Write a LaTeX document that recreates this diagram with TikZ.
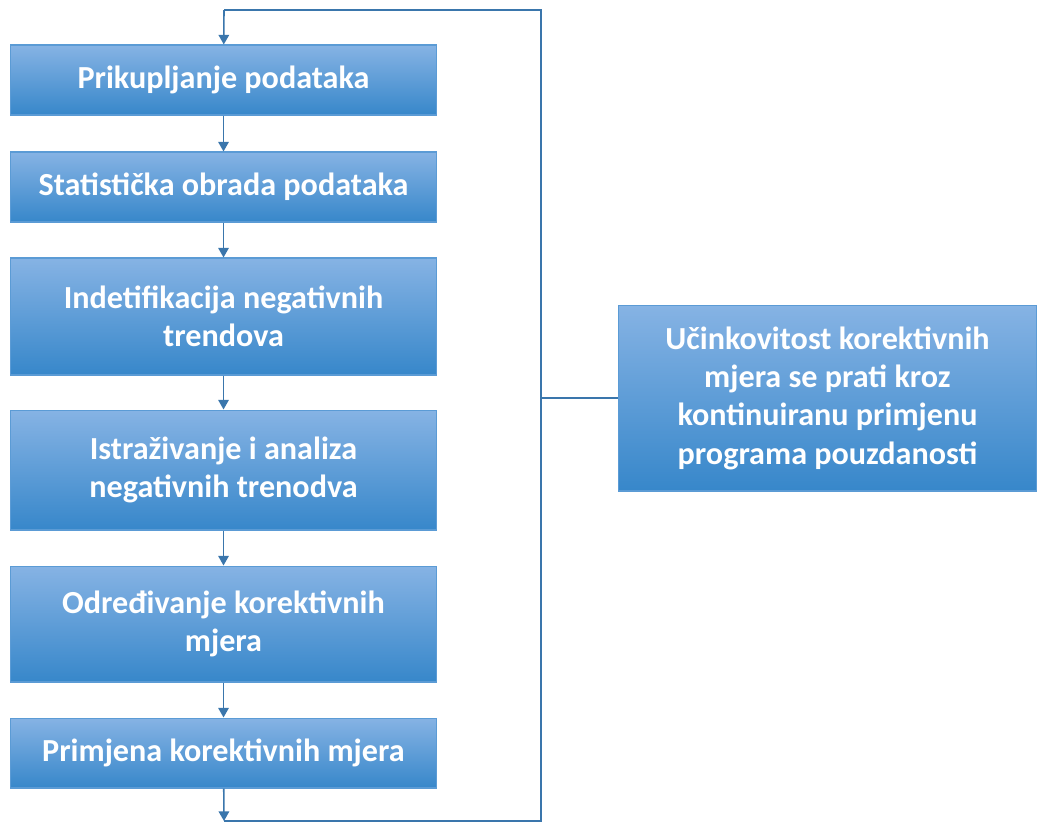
\documentclass[tikz,border=0pt]{standalone}
\usepackage{fontspec}
\setmainfont{Carlito}
\usepackage{tikz}
\usetikzlibrary{arrows.meta}
\definecolor{boxtop}{HTML}{86B3E4}
\definecolor{boxbot}{HTML}{3787CA}
\definecolor{boxline}{HTML}{5B9BD5}
\definecolor{linkcol}{HTML}{3A76AC}
\tikzset{
  stepbox/.style={draw=boxline, line width=0.6pt, top color=boxtop, bottom color=boxbot,
    text=white, font=\bfseries\fontsize{18.3}{21.8}\selectfont, align=center,
    inner sep=0pt, minimum width=#1},
  stepbox/.default={8.54cm},
  link/.style={draw=linkcol, line width=0.9pt},
  >={Triangle[width=6pt,length=5.5pt]}
}

\begin{document}
\begin{tikzpicture}[x=0.02cm, y=-0.02cm]
        \useasboundingbox (0,0) rectangle (1037,823);

        \node[stepbox, minimum height=1.40cm] (prik) at (223.5,80) {Prikupljanje podataka};
        \node[stepbox, minimum height=1.40cm] (stat) at (223.5,187) {Statistička obrada podataka};
        \node[stepbox, minimum height=2.34cm] (ident) at (223.5,316.5) {Indetifikacija negativnih\\trendova};
        \node[stepbox, minimum height=2.40cm] (istr) at (223.5,470) {Istraživanje i analiza\\negativnih trenodva};
        \node[stepbox, minimum height=2.32cm] (odred) at (223.5,624) {Određivanje korektivnih\\mjera};
        \node[stepbox, minimum height=1.40cm] (primj) at (223.5,753) {Primjena korektivnih mjera};

        \node[stepbox=8.38cm, minimum height=3.72cm] (ucin) at (827.5,398)
          {Učinkovitost korektivnih\\mjera se prati kroz\\kontinuiranu primjenu\\programa pouzdanosti};

        % feedback loop
        \coordinate (bl) at (224,821);
        \coordinate (br) at (541,821);
        \coordinate (tr) at (541,10);
        \coordinate (tl) at (224,10);
        \coordinate (mid) at (541,398);

        \draw[link, ->] (prik) -- (stat);
        \draw[link, ->] (stat) -- (ident);
        \draw[link, ->] (ident) -- (istr);
        \draw[link, ->] (istr) -- (odred);
        \draw[link, ->] (odred) -- (primj);
        \draw[link, ->] (primj) -- (bl);
        \draw[link] (bl) -- (br) -- (tr) -- (tl);
        \draw[link, ->] (tl) -- (prik);
        \draw[link] (mid) -- (ucin);

    \end{tikzpicture}
\end{document}
